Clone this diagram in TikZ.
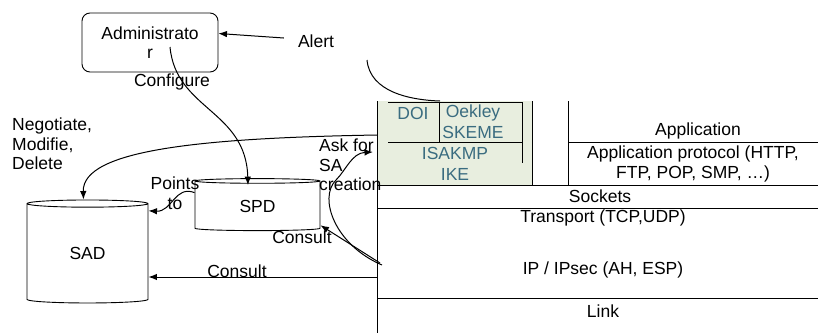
\documentclass[tikz,border=0pt]{standalone}
\usepackage{fontspec}
\setmainfont{Liberation Sans}
\usetikzlibrary{positioning,calc,arrows.meta,shapes.geometric}
\definecolor{ikefill}{RGB}{232,238,223}
\definecolor{iketext}{RGB}{58,108,128}

\begin{document}
\begin{tikzpicture}[x=1pt, y=-1pt, >={Latex[length=8.5pt,width=6.5pt]},
  every node/.style={font=\fontsize{17.5}{19.5}\selectfont, inner sep=0pt},
  db/.style={draw, cylinder, shape border rotate=90, line width=0.9pt},
  ike/.style={text=iketext},
  conn/.style={line width=1pt}]
  \useasboundingbox (0,0) rectangle (818,333);
  \fill[ikefill] (377,101) rectangle (532,185);
  \draw[line width=0.9pt] (377,101) -- (377,333)
    (377,185) -- (818,185) (377,208) -- (818,208) (377,298) -- (818,298)
    (532,101) -- (532,185) (568,101) -- (568,185) (568,142) -- (818,142)
    (388,102) -- (522,102) (388,142) -- (522,142) (439,102) -- (439,142) (522,102) -- (522,163);
  \node[ike] (doi) at (413,113) {DOI};
  \node[ike] (oak) at (473,113) {Oekley};
  \node[ike] (skm) at (473,132) {SKEME};
  \node[ike] (isa) at (455,153) {ISAKMP};
  \node[ike] (ike) at (455,174) {IKE};
  \node (app) at (698,131) {Application};
  \node[align=center] (apr) at (693,164) {Application protocol (HTTP,\\FTP, POP, SMP, \ldots)};
  \node (sck) at (600,196) {Sockets};
  \node (trp) at (603,218) {Transport (TCP,UDP)};
  \node (ip) at (603,270) {IP / IPsec (AH, ESP)};
  \node (lnk) at (603,311) {Link};

  \node[draw, line width=0.9pt, rounded corners=8pt, minimum width=136pt, minimum height=59pt, align=center] (admin) at (150,42.5) {Administrato\\r};
  \node (alert) at (316,41) {Alert};
  \node (cfg) at (172,82) {Configure};
  \node[align=left, anchor=west] (neg) at (12,144) {Negotiate,\\Modifie,\\Delete};
  \node[align=left, anchor=west] (ask) at (319,165) {Ask for\\SA\\creation};
  \node[align=center] (pts) at (175,193) {Points\\to};
  \node (cs1) at (302,237) {Consult};
  \node (cs2) at (237,271) {Consult};
  \node[db, aspect=0.2, minimum width=121pt, minimum height=103pt] (sad) at (87.5,253.5) {SAD};
  \node[db, aspect=0.13, minimum width=125pt, minimum height=52pt] (spd) at (257.5,206) {SPD};

  \coordinate (cfgs) at (170,47);
  \coordinate (alts) at (367,60);
  \coordinate (doitop) at (440,101);
  \coordinate (negs) at (377,135);
  \coordinate (asks) at (382,265);
  \coordinate (askt) at (373,152);
  \coordinate (cns1) at (380,263);
  \coordinate (cns2) at (377,277);

  \draw[->, conn] ([shift={(-14pt,3pt)}]alert.west) -- ([yshift=9pt]admin.east);
  \draw[conn] (alts) .. controls (370,92) and (410,100) .. (doitop);
  \draw[->, conn] (cfgs) .. controls (176,110) and (246,110) .. ($(spd.north)+(-9.5,7)$);
  \draw[->, conn] (negs) .. controls (200,138) and (82,150) .. ([xshift=-4pt]sad.north);
  \draw[->, conn] (spd.168) .. controls (175,185) and (172,212) .. (sad.35);
  \draw[->, conn] (asks) .. controls (335,245) and (318,198) .. (336,180) .. controls (346,170) and (352,153) .. (askt);
  \draw[->, conn] (cns1) -- (spd.-17);
  \draw[->, conn] (cns2) -- (cns2 -| sad.east);
\end{tikzpicture}
\end{document}
